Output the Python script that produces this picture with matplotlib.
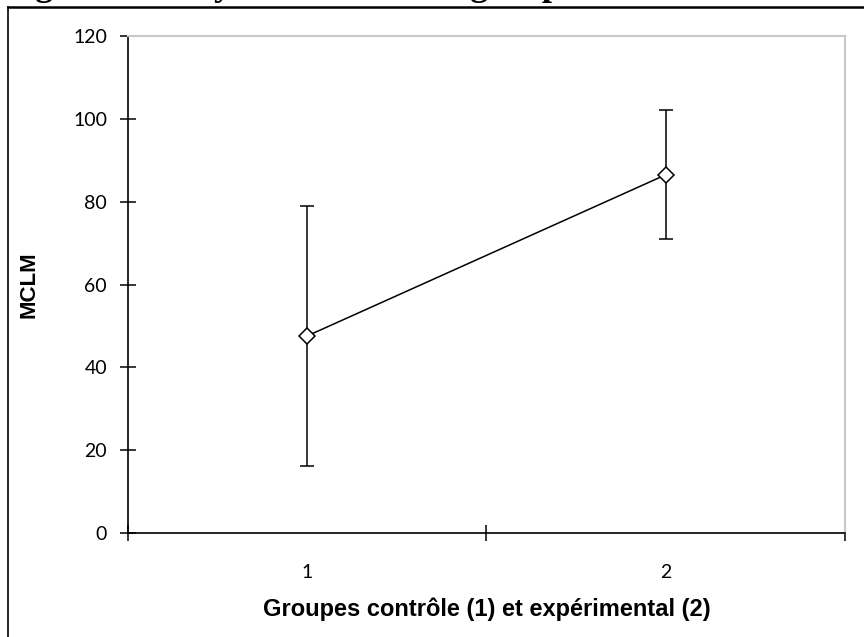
import matplotlib
matplotlib.use('Agg')
import matplotlib.pyplot as plt
from matplotlib.lines import Line2D

# Group means of MCLM with their error bars
groups = [1, 2]
group_labels = ['1', '2']
means = [47.6, 86.5]
errors = [31.3, 15.6]
y_ticks = [0, 20, 40, 60, 80, 100, 120]

fig = plt.figure(figsize=(8.64, 6.37), dpi=100)
ax = fig.add_axes([0.148, 0.163, 0.830, 0.7805])

# Mean line with error bars and open diamond markers
ax.errorbar(groups, means, yerr=errors, color='black', linewidth=1.1,
            elinewidth=1.1, capsize=4.7, capthick=1.1,
            marker='D', markersize=8.5, markerfacecolor='white',
            markeredgecolor='black', markeredgewidth=1.1, zorder=3)

ax.set_xlim(0.5, 2.5)
ax.set_ylim(0, 120)
ax.set_yticks(y_ticks)
ax.set_yticklabels([str(v) for v in y_ticks], fontfamily='Lato', fontsize=14)

# Category axis: ticks at the boundaries, labels at the centres
ax.set_xticks([0.5, 1.5, 2.5])
ax.set_xticklabels([])
ax.set_xticks(groups, minor=True)
ax.set_xticklabels(group_labels, minor=True, fontfamily='Lato', fontsize=14)
ax.tick_params(axis='x', which='minor', length=0, pad=22)
ax.tick_params(axis='x', which='major', direction='inout', length=12, width=1.1)
ax.tick_params(axis='y', direction='inout', length=12, width=1.1, pad=9)

for side in ['top', 'right']:
    ax.spines[side].set_color('#c8c8c8')
    ax.spines[side].set_linewidth(1.5)
for side in ['left', 'bottom']:
    ax.spines[side].set_color('black')
    ax.spines[side].set_linewidth(1.2)

ax.set_ylabel('MCLM', fontfamily='Liberation Sans', fontweight='bold',
              fontsize=16, labelpad=24)
ax.set_xlabel('Groupes contrôle (1) et expérimental (2)',
              fontfamily='Liberation Sans', fontweight='bold', fontsize=17,
              labelpad=12)

# Frame of the surrounding document box
fig.add_artist(Line2D([8 / 864, 8 / 864], [0, 1 - 7 / 637], color='black',
                      linewidth=1.2, transform=fig.transFigure))
fig.add_artist(Line2D([8 / 864, 1], [1 - 7 / 637, 1 - 7 / 637], color='black',
                      linewidth=1.8, transform=fig.transFigure))

# Caption of the figure, mostly cut off by the top edge
fig.text(0.004, 1 + 5 / 637, 'Figure 2 : Moyennes des deux groupes',
         fontfamily='Liberation Serif', fontweight='bold', fontsize=26,
         ha='left', va='baseline')

fig.savefig('out.png', dpi=100)
